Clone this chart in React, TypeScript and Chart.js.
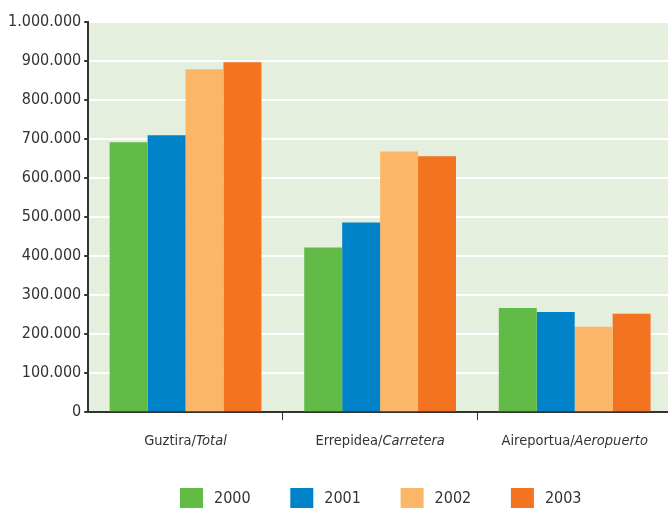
import React, { useEffect, useRef } from "react";
import { Chart, registerables } from "chart.js";

Chart.register(...registerables);

const categories = ["Guztira/|Total", "Errepidea/|Carretera", "Aireportua/|Aeropuerto"];
const years = ["2000", "2001", "2002", "2003"];
const v2000 = [692000, 422000, 267000];
const v2001 = [710000, 486000, 257000];
const v2002 = [879000, 668000, 219000];
const v2003 = [897000, 656000, 252000];
const colors = ["#62bb46", "#0083c8", "#fbb767", "#f37321"];

const FONT = "'Liberation Sans Narrow', 'DejaVu Sans Condensed', 'Roboto', sans-serif";

const fmt = (n: number) => String(Math.round(n)).replace(/\B(?=(\d{3})+(?!\d))/g, ".");

const bgPlugin = {
  id: "bgArea",
  beforeDraw(chart: any) {
    const { ctx, chartArea } = chart;
    if (!chartArea) return;
    ctx.save();
    ctx.fillStyle = "#e4efde";
    ctx.fillRect(chartArea.left, chartArea.top, chartArea.right - chartArea.left, chartArea.bottom - chartArea.top);
    ctx.restore();
  },
};

const catLabelPlugin = {
  id: "catLabels",
  afterDraw(chart: any) {
    const { ctx } = chart;
    const x = chart.scales.x;
    ctx.save();
    ctx.fillStyle = "#333";
    ctx.textBaseline = "middle";
    categories.forEach((c, i) => {
      const [a, b] = c.split("|");
      const cx = x.getPixelForValue(i);
      ctx.font = `14.5px ${FONT}`;
      const wa = ctx.measureText(a).width;
      ctx.font = `italic 14.5px ${FONT}`;
      const wb = ctx.measureText(b).width;
      const start = cx - (wa + wb) / 2;
      ctx.textAlign = "left";
      ctx.font = `14.5px ${FONT}`;
      ctx.fillText(a, start, 441);
      ctx.font = `italic 14.5px ${FONT}`;
      ctx.fillText(b, start + wa, 441);
    });
    ctx.restore();
  },
};

const legendPlugin = {
  id: "customLegend",
  afterDraw(chart: any) {
    const { ctx } = chart;
    ctx.save();
    ctx.font = `16px ${FONT}`;
    ctx.textBaseline = "middle";
    ctx.textAlign = "left";
    years.forEach((y, i) => {
      const x0 = 180 + i * 110.3;
      ctx.fillStyle = colors[i];
      ctx.fillRect(x0, 488, 23, 20);
      ctx.fillStyle = "#333";
      ctx.fillText(y, x0 + 34, 499);
    });
    ctx.restore();
  },
};

export default function App() {
  const ref = useRef<HTMLCanvasElement>(null);
  useEffect(() => {
    document.body.style.margin = "0";
    const chart = new Chart(ref.current!, {
      type: "bar",
      data: {
        labels: categories,
        datasets: years.map((y, i) => ({
          label: y,
          data: [v2000, v2001, v2002, v2003][i],
          backgroundColor: colors[i],
          borderWidth: 0,
          categoryPercentage: 0.78,
          barPercentage: 1,
        })),
      },
      options: {
        animation: false,
        responsive: false,
        maintainAspectRatio: false,
        layout: { padding: { top: 22, right: 0, left: 5, bottom: 63 } },
        plugins: {
          tooltip: { enabled: false },
          legend: { display: false },
        },
        scales: {
          x: {
            grid: {
              offset: true,
              drawOnChartArea: false,
              tickLength: 8,
              tickColor: (c: any) => (c.index === 0 ? "rgba(0,0,0,0)" : "#333"),
              color: "#333",
            },
            border: { color: "#333", width: 2 },
            ticks: { color: "rgba(0,0,0,0)", font: { family: FONT, size: 14 }, padding: 4 },
          },
          y: {
            min: 0,
            max: 1000000,
            ticks: {
              stepSize: 100000,
              color: "#333",
              font: { family: FONT, size: 16 },
              padding: 3,
              callback: (v: any) => fmt(Number(v)),
            },
            grid: { color: "#ffffff", lineWidth: 2, tickLength: 4, tickColor: "#333" },
            border: { color: "#333", width: 2 },
          },
        },
      },
      plugins: [bgPlugin, catLabelPlugin, legendPlugin],
    });
    return () => chart.destroy();
  }, []);
  return (
    <div style={{ position: "fixed", left: 0, top: 0, width: 668, height: 508, overflow: "hidden", background: "#fff" }}>
      <canvas ref={ref} width={672} height={508} style={{ display: "block" }} />
    </div>
  );
}
